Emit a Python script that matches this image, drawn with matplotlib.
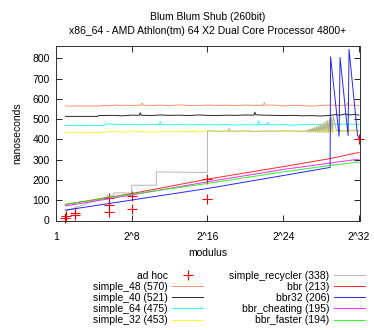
import numpy as np
import matplotlib
matplotlib.use("Agg")
import matplotlib.pyplot as plt
from matplotlib.ticker import FixedLocator, NullLocator, FixedFormatter

plt.rcParams['font.family'] = ['Liberation Sans', 'DejaVu Sans']

# ---- data (x values are log2(modulus)) ----
adhoc_x = [1, 1.1, 2, 2.05, 5.63, 5.63, 5.63, 8, 8, 16, 16, 32]
adhoc_y = [13, 20, 28, 36, 109, 75, 42, 59, 120, 204, 105, 400]

s48_x = [1, 4.5, 5.0, 5.6, 6.3, 7.0, 7.6, 8.3, 9.0, 9.1, 9.2, 10, 11, 12, 13, 14, 15, 16, 17, 18,
         19, 20, 21, 21.9, 22.0, 22.1, 23, 24, 25, 26, 27, 28, 29, 30, 30.7, 30.8, 30.9, 31.5, 32]
s48_y = [565, 565, 568, 566, 570, 567, 569, 568, 570, 580, 569, 567, 570, 566, 571, 568, 567, 570, 568, 569,
         567, 570, 568, 569, 582, 569, 570, 566, 569, 567, 565, 568, 570, 568, 569, 580, 568, 570, 566]

s40_x = [1, 4.4, 4.5, 6, 7, 8, 8.8, 8.9, 9.0, 10, 11, 12, 13, 14, 15, 16, 17, 18, 19, 20,
         20.9, 21.0, 21.1, 22, 23, 24, 25, 26, 27, 28, 29, 29.5, 30, 30.5, 31, 31.5, 32]
s40_y = [514, 514, 518, 519, 517, 520, 519, 532, 520, 518, 521, 519, 520, 518, 521, 519, 518, 520, 519, 521,
         520, 535, 522, 520, 519, 518, 519, 517, 518, 516, 519, 523, 520, 526, 521, 524, 520]

s64_x = [1, 5.0, 5.4, 6, 7, 8, 9, 10, 10.9, 11.0, 11.1, 12, 13, 14, 15, 16, 17, 18, 19, 20,
         21.3, 21.4, 21.5, 22.3, 22.4, 22.5, 23, 24, 25, 26, 27, 28, 29, 30, 31, 32]
s64_y = [469, 469, 477, 476, 474, 475, 473, 475, 474, 490, 474, 473, 475, 472, 474, 473, 472, 474, 471, 473,
         472, 492, 473, 474, 484, 473, 472, 474, 471, 473, 475, 474, 476, 475, 476, 474]

zig_x = [26.5, 26.6, 26.7, 26.8, 26.9, 27.0, 27.1, 27.2, 27.3, 27.4, 27.5, 27.6, 27.7, 27.8, 27.9,
         28.0, 28.1, 28.2, 28.3, 28.4, 28.5, 28.6, 28.7, 28.8, 28.9, 29.0, 29.1, 29.2, 29.3]

s32_x = [1, 5.0, 5.3, 6, 7, 8, 9, 10, 11, 12, 13, 14, 14.5, 14.6, 14.7, 15, 16, 17, 18, 19,
         20, 21, 22, 23, 24, 25, 26] + zig_x + [29.6, 30.5, 31.5, 32]
s32_y = [435, 435, 438, 439, 437, 438, 439, 437, 438, 439, 438, 440, 439, 447, 439, 438, 440, 439, 440, 438,
         440, 439, 441, 440, 439, 441, 440] + \
        [441, 446, 438, 448, 437, 451, 438, 454, 436, 457, 437, 461, 436, 465, 435,
         470, 436, 476, 435, 481, 434, 487, 435, 492, 434, 497, 436, 502, 440] + [441, 440, 442, 440]

rec_x = [1, 5.45, 5.45, 6.1, 6.1, 8.0, 8.0, 10.6, 10.6, 16.0, 16.0, 17, 18.2, 18.3, 18.4, 19, 20, 21,
         22, 23, 24, 25, 26, 26.4] + zig_x + [29.6, 30.5, 31.5, 32]
rec_y = [47, 117, 125, 125, 136, 136, 174, 174, 240, 237, 443, 441, 442, 455, 442, 441, 443, 440,
         442, 441, 443, 442, 441, 442] + \
        [443, 436, 450, 437, 453, 436, 456, 437, 460, 436, 464, 435, 468, 436, 473,
         435, 478, 434, 484, 435, 490, 434, 496, 435, 503, 436, 510, 437, 520] + [445, 442, 447, 443]

bbr_x = [1, 8, 16, 24, 29, 32]
bbr_y = [79, 133, 204, 266, 306, 336]

bbr32_x = [1, 8, 16, 24, 28.95, 29.0, 29.9, 30.0, 30.85, 30.95, 31.85, 32.0]
bbr32_y = [51, 101, 158, 222, 262, 808, 416, 805, 420, 845, 420, 405]

cheat_x = [1, 8, 16, 24, 29, 32]
cheat_y = [72, 126, 191, 252, 284, 303]

faster_x = [1, 8, 16, 24, 29, 32]
faster_y = [80, 130, 183, 240, 272, 289]

labels = ["ad hoc", "simple_48 (570)", "simple_40 (521)", "simple_64 (475)", "simple_32 (453)",
          "simple_recycler (338)", "bbr (213)", "bbr32 (206)", "bbr_cheating (195)", "bbr_faster (194)"]
colors = ["#ff0000", "#ff7f50", "#000000", "#00ffff", "#ffff00",
          "#a8a8a8", "#ff0000", "#0000ff", "#ff00ff", "#00ff00"]

xtick_exp = [0, 8, 16, 24, 32]
xtick_labels = ["1", "2^8", "2^16", "2^24", "2^32"]
ytick_vals = [0, 100, 200, 300, 400, 500, 600, 700, 800]

FS = 7.5

def m(xs):
    return 2.0 ** np.asarray(xs, dtype=float)

fig = plt.figure(figsize=(3.74, 3.30), dpi=100)
ax = fig.add_axes([56 / 374, (330 - 220.5) / 330, 304.3 / 374, 174.2 / 330])

series = [(s48_x, s48_y), (s40_x, s40_y), (s64_x, s64_y), (s32_x, s32_y), (rec_x, rec_y),
          (bbr_x, bbr_y), (bbr32_x, bbr32_y), (cheat_x, cheat_y), (faster_x, faster_y)]

handles = []
h = ax.plot(m(adhoc_x), adhoc_y, linestyle='none', marker='+', markersize=7, markeredgewidth=0.8,
            color=colors[0], clip_on=False)[0]
handles.append(h)
for (xs, ys), c in zip(series, colors[1:]):
    h = ax.plot(m(xs), ys, color=c, lw=0.7, alpha=0.85, clip_on=False)[0]
    handles.append(h)

ax.set_xscale('log', base=2)
ax.set_xlim(1, 2 ** 32.14)
ax.set_ylim(0, 860)

ax.xaxis.set_major_locator(FixedLocator([2.0 ** e for e in xtick_exp]))
ax.xaxis.set_major_formatter(FixedFormatter(xtick_labels))
ax.xaxis.set_minor_locator(NullLocator())
ax.yaxis.set_major_locator(FixedLocator(ytick_vals))
ax.yaxis.set_minor_locator(NullLocator())

ax.tick_params(axis='both', which='major', direction='in', length=4, width=0.6,
               top=True, right=True, labelsize=FS, colors='#000000')
ax.tick_params(axis='x', pad=8.5)
ax.tick_params(axis='y', pad=4.5)
for sp in ax.spines.values():
    sp.set_linewidth(0.7)
    sp.set_color('#303030')

ax.set_xlabel("modulus", fontsize=FS)
ax.xaxis.set_label_coords(0.5, -0.16)
ax.set_ylabel("nanoseconds", fontsize=FS)
ax.yaxis.set_label_coords(-0.112, 0.5)

fig.text(208 / 374, 1 - 16.7 / 330, "Blum Blum Shub (260bit)", ha='center', va='center', fontsize=FS)
fig.text(208 / 374, 1 - 30.5 / 330, "x86_64 - AMD Athlon(tm) 64 X2 Dual Core Processor 4800+",
         ha='center', va='center', fontsize=FS)

leg = fig.legend(handles, labels, ncol=2, markerfirst=False, frameon=False, fontsize=FS,
                 loc='upper left', bbox_to_anchor=(93 / 374, 1 - 271 / 330),
                 borderpad=0, borderaxespad=0, handlelength=3.0, handletextpad=0.4,
                 columnspacing=2.5, labelspacing=0.1, numpoints=1)

fig.savefig("out.png", dpi=100)
